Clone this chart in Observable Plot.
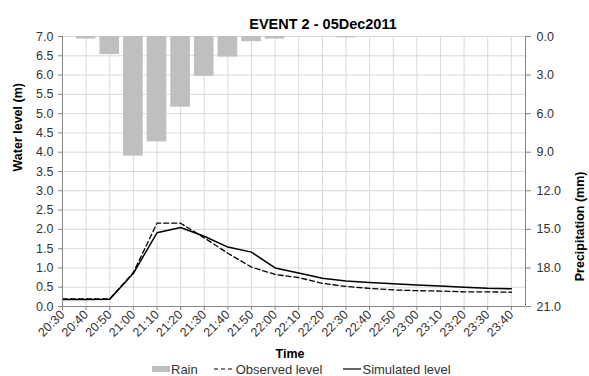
<!DOCTYPE html>
<html>
<head>
<meta charset="utf-8">
<script src="https://cdn.jsdelivr.net/npm/d3@7"></script>
<script src="https://cdn.jsdelivr.net/npm/@observablehq/plot@0.6"></script>
<style>
  body { margin: 0; background: white; font-family: "Liberation Sans", Arial, sans-serif; }
  #chart svg { display: block; overflow: visible; }
  #legend { height: 14px; display: flex; align-items: center; padding-left: 152px; font-size: 13px; color: #333; }
  #legend .item { display: flex; align-items: center; }
  #legend svg { display: block; margin-right: 1px; }
</style>
</head>
<body>
<div id="chart"></div>
<div id="legend"></div>
<script>
const title = "EVENT 2 - 05Dec2011";
const categories = ["20:30","20:40","20:50","21:00","21:10","21:20","21:30","21:40","21:50","22:00",
  "22:10","22:20","22:30","22:40","22:50","23:00","23:10","23:20","23:30","23:40"];
const rain = [0, 0.2, 1.4, 9.3, 8.2, 5.5, 3.1, 1.6, 0.4, 0.2, 0, 0, 0.1, 0, 0, 0, 0, 0, 0, 0];
const observed = [0.20, 0.20, 0.20, 0.88, 2.16, 2.16, 1.78, 1.38, 1.02, 0.83, 0.75, 0.60, 0.52, 0.47, 0.43, 0.41, 0.40, 0.38, 0.38, 0.37];
const simulated = [0.18, 0.18, 0.19, 0.86, 1.91, 2.05, 1.82, 1.54, 1.41, 1.00, 0.87, 0.73, 0.66, 0.62, 0.59, 0.56, 0.53, 0.50, 0.47, 0.46];
const levelTicks = d3.range(0, 7.01, 0.5);
const precipTicks = [0, 3, 6, 9, 12, 15, 18, 21];
const precipMax = 21, levelMax = 7;
const toLevel = p => levelMax - p * levelMax / precipMax;

const data = categories.map((c, i) => ({i, label: c, rain: rain[i], obs: observed[i], sim: simulated[i]}));
const xMax = 19.6;
const axisColor = "#868686", gridColor = "#d9d9d9", textColor = "#333";

const chart = Plot.plot({
  width: 589, height: 362,
  marginTop: 36, marginBottom: 56, marginLeft: 62, marginRight: 64,
  style: {fontFamily: "'Liberation Sans', Arial, sans-serif", fontSize: "12px", color: textColor, background: "white"},
  x: {type: "linear", domain: [0, xMax]},
  y: {domain: [0, levelMax]},
  marks: [
    Plot.gridY(levelTicks, {stroke: gridColor, strokeOpacity: 1}),
    Plot.gridX(d3.range(1, categories.length), {stroke: gridColor, strokeOpacity: 1}),
    Plot.rectY(data.filter(d => d.rain > 0), {
      x1: d => d.i - 0.5, x2: d => d.i + 0.5,
      y1: levelMax, y2: d => toLevel(d.rain),
      fill: "#bfbfbf", insetLeft: 2, insetRight: 2
    }),
    Plot.line(data, {x: "i", y: "obs", stroke: "black", strokeWidth: 1.3, strokeDasharray: "5,3"}),
    Plot.line(data, {x: "i", y: "sim", stroke: "black", strokeWidth: 1.5}),
    Plot.ruleX([0, xMax], {stroke: axisColor}),
    Plot.ruleY([0], {stroke: axisColor}),
    Plot.axisY({ticks: levelTicks, tickFormat: d3.format(".1f"), tickSize: 4, tickPadding: 5, label: null, stroke: axisColor, fill: textColor, fontSize: 12.5}),
    Plot.axisY({anchor: "right", ticks: precipTicks.map(toLevel), tickFormat: y => ((levelMax - y) * precipMax / levelMax).toFixed(1), tickSize: 5, tickPadding: 6, label: null, stroke: axisColor, fill: textColor, fontSize: 12.5}),
    Plot.axisX({ticks: d3.range(categories.length), tickFormat: i => categories[i], tickRotate: -45, tickSize: 4, tickPadding: 2, label: null, stroke: axisColor, fill: textColor, fontSize: 12.5}),
    Plot.text([title], {frameAnchor: "top", dx: 29, dy: -18, fontSize: 14.5, fontWeight: "bold", fill: "black"}),
    Plot.text(["Water level (m)"], {frameAnchor: "left", dx: -45, rotate: -90, fontSize: 12.5, fontWeight: "bold", fill: "black"}),
    Plot.text(["Precipitation (mm)"], {frameAnchor: "right", dx: 54, rotate: -90, fontSize: 12.5, fontWeight: "bold", fill: "black"}),
    Plot.text(["Time"], {frameAnchor: "bottom", dx: -4, dy: 51, fontSize: 12.5, fontWeight: "bold", fill: "black"})
  ]
});
document.getElementById("chart").appendChild(chart);

const legendItems = [
  {label: "Rain", w: 18, gap: 16, swatch: '<rect x="0" y="4" width="18" height="6" fill="#bfbfbf"/>'},
  {label: "Observed level", w: 21, gap: 21, swatch: '<line x1="0" y1="7" x2="21" y2="7" stroke="black" stroke-width="1.2" stroke-dasharray="4,3"/>'},
  {label: "Simulated level", w: 18, gap: 0, swatch: '<line x1="0" y1="7" x2="18" y2="7" stroke="black" stroke-width="1.2"/>'}
];
const legend = document.getElementById("legend");
legendItems.forEach(it => {
  const div = document.createElement("div");
  div.className = "item";
  div.style.marginRight = it.gap + "px";
  div.innerHTML = `<svg width="${it.w}" height="14">${it.swatch}</svg><span>${it.label}</span>`;
  legend.appendChild(div);
});
</script>
</body>
</html>
